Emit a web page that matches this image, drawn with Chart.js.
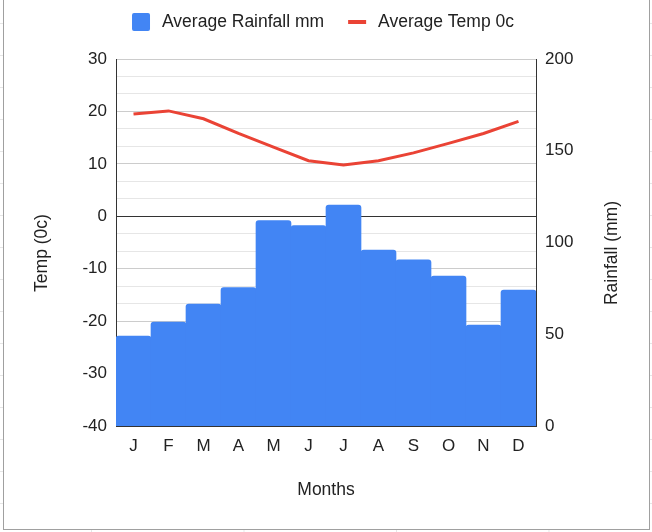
<!DOCTYPE html>
<html>
<head>
<meta charset="utf-8">
<title>Rainfall and temperature</title>
<script src="https://cdn.jsdelivr.net/npm/chart.js@4.4.1/dist/chart.umd.min.js"></script>
<style>
  html, body { margin: 0; padding: 0; }
  body {
    width: 652px;
    height: 532px;
    overflow: hidden;
    position: relative;
    background-color: #fff;
    background-image:
      linear-gradient(#e6e6e6 1px, transparent 1px),
      linear-gradient(90deg, #e6e6e6 1px, transparent 1px);
    background-size: 100% 32px, 152.5px 100%;
    background-position: 0 23px, 91px 0;
  }
  .frame {
    position: absolute;
    left: 3px;
    top: -1px;
    width: 645px;
    height: 529px;
    border: 1px solid #a0a0a0;
    background: #fff;
  }
  .chart-box {
    position: absolute;
    left: 0;
    top: 0;
    width: 652px;
    height: 532px;
  }
</style>
</head>
<body>
<div class="frame"></div>
<div class="chart-box"><canvas id="climateChart"></canvas></div>
<script>
const months = ['J', 'F', 'M', 'A', 'M', 'J', 'J', 'A', 'S', 'O', 'N', 'D'];
const rainfallMm = [49.0, 56.7, 66.5, 75.4, 111.9, 109.2, 120.4, 95.9, 90.5, 81.7, 55.0, 74.1];
const tempC = [19.5, 20.1, 18.6, 15.8, 13.2, 10.6, 9.8, 10.6, 12.1, 13.9, 15.8, 18.1];
const tempTicks = [-40, -30, -20, -10, 0, 10, 20, 30];
const rainTicks = [0, 50, 100, 150, 200];

const FONT = '"Liberation Sans", Arial, sans-serif';
const BLUE = '#4285f4';
const RED = '#ea4335';

Chart.defaults.font.family = FONT;
Chart.defaults.color = '#222';

function isMajor(v) {
  return tempTicks.some(t => Math.abs(t - v) < 1e-6);
}

// two lighter grid lines between every labelled temperature tick
function tempGridValues() {
  const vals = [];
  tempTicks.forEach((t, i) => {
    vals.push(t);
    if (i < tempTicks.length - 1) {
      const step = (tempTicks[i + 1] - t) / 3;
      vals.push(t + step, t + 2 * step);
    }
  });
  return vals;
}

// legend and the two side titles (right one reads bottom to top, like the left)
const sideText = {
  id: 'sideText',
  afterDraw(chart) {
    const { ctx } = chart;
    ctx.save();
    ctx.fillStyle = '#222';
    ctx.font = '17.5px ' + FONT;
    ctx.textBaseline = 'middle';
    ctx.textAlign = 'center';

    [['Temp (0c)', 42], ['Rainfall (mm)', 612]].forEach(([text, x]) => {
      ctx.save();
      ctx.translate(x, 253);
      ctx.rotate(-Math.PI / 2);
      ctx.fillText(text, 0, 0);
      ctx.restore();
    });

    // legend row
    ctx.textAlign = 'left';
    const items = chart.data.datasets.map(ds => ({
      text: ds.label,
      type: ds.type,
      color: ds.type === 'line' ? ds.borderColor : ds.backgroundColor,
      width: 18 + 12 + ctx.measureText(ds.label).width
    }));
    const total = items.reduce((s, it) => s + it.width, 0) + 24 * (items.length - 1);
    let x = 323 - total / 2;
    const cy = 22;
    items.forEach(it => {
      ctx.fillStyle = it.color;
      if (it.type === 'line') {
        ctx.fillRect(x, cy - 2, 18, 4);
      } else {
        ctx.beginPath();
        ctx.roundRect(x, cy - 9, 18, 18, 2);
        ctx.fill();
      }
      ctx.fillStyle = '#222';
      ctx.fillText(it.text, x + 30, cy);
      x += it.width + 24;
    });
    ctx.restore();
  }
};

const ctx = document.getElementById('climateChart').getContext('2d');

new Chart(ctx, {
  data: {
    labels: months,
    datasets: [
      {
        type: 'bar',
        label: 'Average Rainfall mm',
        data: rainfallMm,
        yAxisID: 'y1',
        backgroundColor: BLUE,
        borderRadius: { topLeft: 3, topRight: 3 },
        barPercentage: 1,
        categoryPercentage: 1,
        order: 1
      },
      {
        type: 'line',
        label: 'Average Temp 0c',
        data: tempC,
        yAxisID: 'y',
        borderColor: RED,
        backgroundColor: RED,
        borderWidth: 3,
        pointRadius: 0,
        tension: 0,
        order: 0
      }
    ]
  },
  options: {
    responsive: true,
    maintainAspectRatio: false,
    animation: false,
    layout: {
      padding: { top: 59, left: 0, right: 0, bottom: 0 }
    },
    plugins: {
      legend: { display: false },
      tooltip: { enabled: false }
    },
    scales: {
      x: {
        grid: { display: false, drawTicks: false },
        border: { display: true, color: '#333' },
        ticks: { font: { size: 17 }, padding: 10 },
        title: {
          display: true,
          text: 'Months',
          font: { size: 17.5 },
          padding: { top: 0, bottom: 31.5 }
        },
        afterFit: (scale) => { scale.height = 106; }
      },
      y: {
        position: 'left',
        min: -40,
        max: 30,
        afterBuildTicks: (axis) => {
          axis.ticks = tempGridValues().map(value => ({ value }));
        },
        grid: {
          drawTicks: false,
          color: (c) => {
            const v = c.tick.value;
            if (Math.abs(v) < 1e-6) return '#333';
            return isMajor(v) ? '#cccccc' : '#e6e6e6';
          }
        },
        border: { display: true, color: '#333' },
        ticks: {
          autoSkip: false,
          font: { size: 17 },
          padding: 9,
          callback: (v) => isMajor(v) ? Math.round(v) : ''
        },
        afterFit: (scale) => { scale.width = 116; }
      },
      y1: {
        position: 'right',
        min: 0,
        max: 200,
        afterBuildTicks: (axis) => {
          axis.ticks = rainTicks.map(value => ({ value }));
        },
        grid: { display: false, drawTicks: false },
        border: { display: true, color: '#333' },
        ticks: { autoSkip: false, font: { size: 17 }, padding: 9 },
        afterFit: (scale) => { scale.width = 116; }
      }
    }
  },
  plugins: [sideText]
});
</script>
</body>
</html>
